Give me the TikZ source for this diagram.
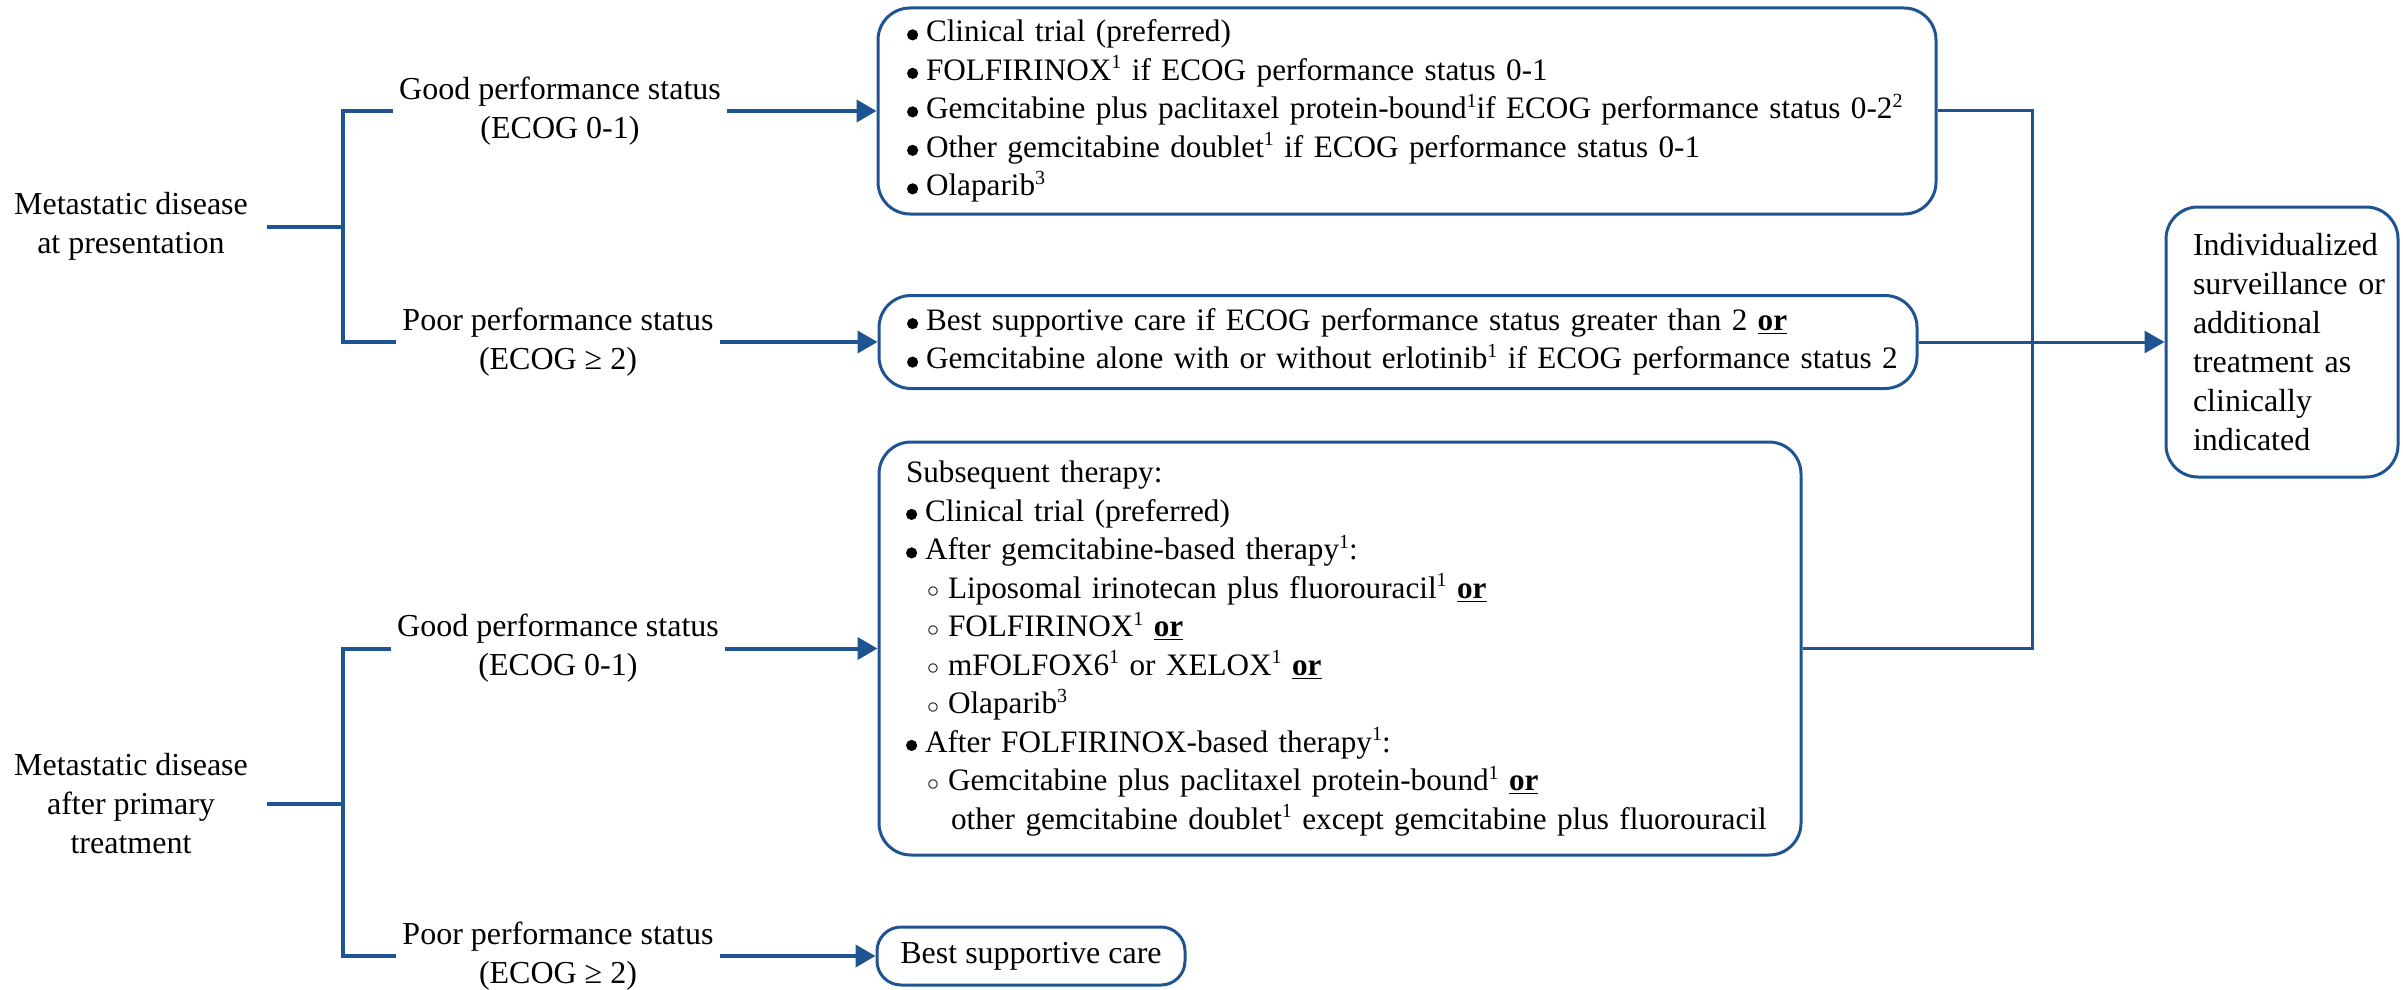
\documentclass[tikz,border=0pt]{standalone}
\usepackage{fontspec}
\setmainfont{Liberation Serif}
\usetikzlibrary{arrows.meta}
\definecolor{nccn}{RGB}{30,84,145}
\newcommand{\bul}{\makebox[9.5pt][l]{\tikz[baseline=0pt]\fill[black] (2.8pt,3.4pt) circle[radius=2.8pt];}}
\newcommand{\sbul}{\hspace*{10.5pt}\makebox[10.5pt][l]{\raisebox{0.3pt}{\fontsize{13}{13}\selectfont$\circ$}}}
\newcommand{\orr}{\underline{\textbf{or}}}
\newcommand{\sps}[1]{\raisebox{0.8ex}{\fontsize{10}{10}\selectfont #1}}
\begin{document}
\begin{tikzpicture}[x=0.5pt,y=-0.5pt,
  every node/.style={font=\fontsize{16}{19.5}\selectfont},
  lbl/.style={align=center, inner xsep=3pt, inner ysep=0pt},
  meta/.style={align=center, inner xsep=9.5pt, inner ysep=0pt},
  rbox/.style={draw=nccn, line width=1.5pt, rounded corners=16pt, align=left, inner ysep=0pt},
  btxt/.style={font=\fontsize{15.6}{19.25}\selectfont},
  brk/.style={draw=nccn, line width=2pt},
  cn/.style={draw=nccn, line width=1.5pt},
  arw/.style={-{Triangle[length=10pt,width=11pt]}}]
\path[use as bounding box] (0,0) rectangle (2403,990);

% upper group
\node[meta] (m1) at (131,226.5) {Metastatic disease\\at presentation};
\node[lbl] (g1) at (560,111) {Good performance status\\(ECOG 0-1)};
\node[lbl] (p1) at (558,342) {Poor performance status\\(ECOG ≥ 2)};
\coordinate (v1t) at (343,111);
\coordinate (v1b) at (343,342);

\node[rbox, btxt, text width=500pt, inner xsep=14.5pt, minimum height=103pt] (b1) at (1407,111)
 {\bul Clinical trial (preferred)\\
  \mbox{\bul FOLFIRINOX\sps{1} if ECOG performance status 0-1}\\
  \mbox{\bul Gemcitabine plus paclitaxel protein-bound\sps{1}if ECOG performance status 0-2\sps{2}}\\
  \mbox{\bul Other gemcitabine doublet\sps{1} if ECOG performance status 0-1}\\
  \bul Olaparib\sps{3}};

\node[rbox, btxt, text width=491pt, inner xsep=14pt, minimum height=46.5pt] (b2) at (1398,342)
 {\mbox{\bul Best supportive care if ECOG performance status greater than 2 \orr}\\
  \mbox{\bul Gemcitabine alone with or without erlotinib\sps{1} if ECOG performance status 2}};

% lower group
\node[meta] (m2) at (131,804) {Metastatic disease\\after primary\\treatment};
\node[lbl] (g2) at (558,648.5) {Good performance status\\(ECOG 0-1)};
\node[lbl] (p2) at (558,956) {Poor performance status\\(ECOG ≥ 2)};
\coordinate (v2t) at (343,648.5);
\coordinate (v2b) at (343,956);

\node[rbox, btxt, text width=434pt, inner xsep=13.5pt, minimum height=206.5pt] (b3) at (1340,648.5)
 {Subsequent therapy:\\
  \bul Clinical trial (preferred)\\
  \mbox{\bul After gemcitabine-based therapy\sps{1}:}\\
  \mbox{\sbul Liposomal irinotecan plus fluorouracil\sps{1} \orr}\\
  \mbox{\sbul FOLFIRINOX\sps{1} \orr}\\
  \mbox{\sbul mFOLFOX6\sps{1} or XELOX\sps{1} \orr}\\
  \mbox{\sbul Olaparib\sps{3}}\\
  \mbox{\bul After FOLFIRINOX-based therapy\sps{1}:}\\
  \mbox{\sbul Gemcitabine plus paclitaxel protein-bound\sps{1} \orr}\\
  \mbox{\hspace*{22.5pt}other gemcitabine doublet\sps{1} except gemcitabine plus fluorouracil}};

\node[rbox, rounded corners=12pt, align=center, inner xsep=0pt, minimum width=154pt, minimum height=29pt] (b4) at (1031,956) {Best supportive care};

\node[rbox, text width=89pt, inner xsep=13.5pt, minimum height=135pt] (b5) at (2282,342)
 {Individualized\\\mbox{surveillance or}\\additional\\treatment as\\clinically\\indicated};

% left brackets
\draw[brk] (g1.west) -- (v1t) -- (v1b) -- (p1.west);
\draw[brk] (m1.east) -- (m1.east -| v1t);
\draw[brk, arw] (g1.east) -- (b1.west);
\draw[brk, arw] (p1.east) -- (b2.west);

\draw[brk] (g2.west) -- (v2t) -- (v2b) -- (p2.west);
\draw[brk] (m2.east) -- (m2.east -| v2t);
\draw[brk, arw] (g2.east) -- (b3.west);
\draw[brk, arw] (p2.east) -- (b4.west);

% right side
\coordinate (jn) at (2032,342);
\draw[cn] (b1.east) -| (jn) |- (b3.east);
\draw[cn, arw] (b2.east) -- (b5.west);
\end{tikzpicture}
\end{document}
